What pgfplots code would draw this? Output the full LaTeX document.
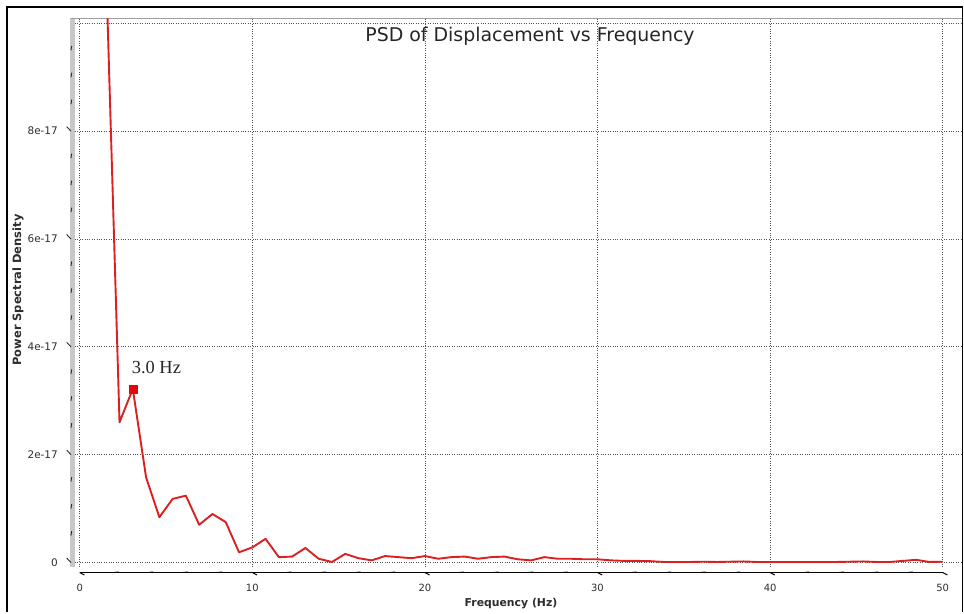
\documentclass[border=0pt]{standalone}
\usepackage{pgfplots}
\pgfplotsset{compat=1.18}
\usepackage{fontspec}
\setmainfont{DejaVu Sans}
\newfontfamily\annotfont{Liberation Serif}
\definecolor{psdred}{RGB}{218,32,32}
\definecolor{markred}{RGB}{228,8,12}
\definecolor{gridgray}{RGB}{80,80,80}
\definecolor{bargray}{RGB}{200,200,200}
\definecolor{framegray}{RGB}{160,160,160}
\definecolor{textgray}{RGB}{45,45,45}

% PSD of displacement, frequency bins of 50/65 Hz
\pgfplotstableread{
f        psd
1.5385   10.9e-17
2.3077   2.60e-17
3.0769   3.22e-17
3.8462   1.58e-17
4.6154   0.84e-17
5.3846   1.18e-17
6.1538   1.24e-17
6.9231   0.70e-17
7.6923   0.90e-17
8.4615   0.75e-17
9.2308   0.19e-17
10.0000  0.28e-17
10.7692  0.44e-17
11.5385  0.10e-17
12.3077  0.11e-17
13.0769  0.27e-17
13.8462  0.07e-17
14.6154  0.01e-17
15.3846  0.16e-17
16.1538  0.08e-17
16.9231  0.04e-17
17.6923  0.12e-17
18.4615  0.10e-17
19.2308  0.08e-17
20.0000  0.12e-17
20.7692  0.07e-17
21.5385  0.10e-17
22.3077  0.11e-17
23.0769  0.07e-17
23.8462  0.10e-17
24.6154  0.11e-17
25.3846  0.06e-17
26.1538  0.04e-17
26.9231  0.10e-17
27.6923  0.07e-17
28.4615  0.07e-17
29.2308  0.06e-17
30.0000  0.06e-17
30.7692  0.04e-17
31.5385  0.03e-17
32.3077  0.03e-17
33.0769  0.025e-17
33.8462  0.01e-17
34.6154  0.01e-17
35.3846  0.01e-17
36.1538  0.015e-17
36.9231  0.01e-17
37.6923  0.015e-17
38.4615  0.02e-17
39.2308  0.01e-17
40.0000  0.01e-17
40.7692  0.01e-17
41.5385  0.01e-17
42.3077  0.01e-17
43.0769  0.01e-17
43.8462  0.01e-17
44.6154  0.015e-17
45.3846  0.02e-17
46.1538  0.01e-17
46.9231  0.01e-17
47.6923  0.03e-17
48.4615  0.05e-17
49.2308  0.01e-17
50.0000  0.015e-17
}\psdtable

\begin{document}
\begin{tikzpicture}[x=1bp,y=1bp]
\path[use as bounding box] (0,0) rectangle (964,614);
\draw[black, line width=1.2bp] (7,2) -- (7,607) -- (962.5,607) -- (962.5,2);
\begin{axis}[
  at={(75bp,47bp)}, anchor=south west,
  scale only axis, width=887bp, height=548.5bp,
  xmin=-0.272, xmax=51.12, ymin=-0.083e-17, ymax=10.09e-17,
  axis line style={draw=none},
  xtick={0,10,20,30,40,50},
  ytick={0,2e-17,4e-17,6e-17,8e-17,10e-17},
  xticklabels={}, yticklabels={},
  major tick length=0pt,
  scaled y ticks=false,
  grid=major,
  grid style={gridgray, line width=0.7bp, dash pattern=on 0.8bp off 1.6bp},
  clip mode=individual,
]
% frame: grey bar on the left, thin grey line on top
\draw[bargray, line width=4.5bp] ([xshift=-2.5bp]rel axis cs:0,0) -- ([xshift=-2.5bp]rel axis cs:0,1);
\draw[framegray, line width=1bp] ([xshift=-4.5bp]rel axis cs:0,1) -- (rel axis cs:1,1);

% y ticks and labels
\pgfplotsinvokeforeach{2,4,6,8}{
  \draw[textgray, line width=0.9bp] ([xshift=-4bp]axis cs:-0.272,#1e-17) -- ++(-9bp,0);
  \node[anchor=east, inner sep=0pt, text=textgray, font=\fontsize{10.5}{12}\selectfont]
    at ([xshift=-17bp]axis cs:-0.272,#1e-17) {#1e-17};
}
\draw[textgray, line width=0.9bp] ([xshift=-4bp]axis cs:-0.272,0) -- ++(-9bp,0);
\node[anchor=east, inner sep=0pt, text=textgray, font=\fontsize{10.5}{12}\selectfont]
  at ([xshift=-17bp]axis cs:-0.272,0) {0};
\pgfplotsinvokeforeach{0.5,1,1.5,2.5,3,3.5,4.5,5,5.5,6.5,7,7.5,8.5,9,9.5}{
  \draw[textgray, line width=0.9bp] ([xshift=-4bp]axis cs:-0.272,#1e-17) -- ++(-4bp,0);
}

% x axis line, ticks and labels
\draw[black, line width=1.1bp] ([yshift=-5.5bp]axis cs:0,-0.083e-17) -- ([yshift=-5.5bp]axis cs:50,-0.083e-17);
\pgfplotsinvokeforeach{0,10,20,30,40,50}{
  \draw[black, line width=1bp] ([yshift=-5.5bp]axis cs:#1,-0.083e-17) -- ++(0,-7bp);
  \node[anchor=north, inner sep=0pt, text=textgray, font=\fontsize{10}{12}\selectfont]
    at ([yshift=-17bp]axis cs:#1,-0.083e-17) {#1};
}
\pgfplotsinvokeforeach{2,4,6,8,12,14,16,18,22,24,26,28,32,34,36,38,42,44,46,48}{
  \draw[black, line width=1bp] ([yshift=-5.5bp]axis cs:#1,-0.083e-17) -- ++(0,-4bp);
}

% spectrum
\addplot[psdred, line width=1.9bp, line join=round, no marks] table[x=f, y=psd] {\psdtable};
% dominant peak
\addplot[only marks, mark=square*, mark size=4bp, markred] coordinates {(3.0769,3.22e-17)};
\node[anchor=base west, inner sep=0pt, text=black!85, font=\annotfont\fontsize{18.5}{20}\selectfont]
  at ([xshift=-1.2bp, yshift=15bp]axis cs:3.0769,3.22e-17) {3.0 Hz};
\end{axis}

\node[text=black!85, font=\fontsize{19}{21}\selectfont] at (530,578) {PSD of Displacement vs Frequency};
\node[text=textgray, font=\bfseries\fontsize{10.9}{12}\selectfont] at (511,10) {Frequency (Hz)};
\node[text=textgray, font=\bfseries\fontsize{11.5}{12}\selectfont, rotate=90] at (18,324) {Power Spectral Density};
\end{tikzpicture}
\end{document}
